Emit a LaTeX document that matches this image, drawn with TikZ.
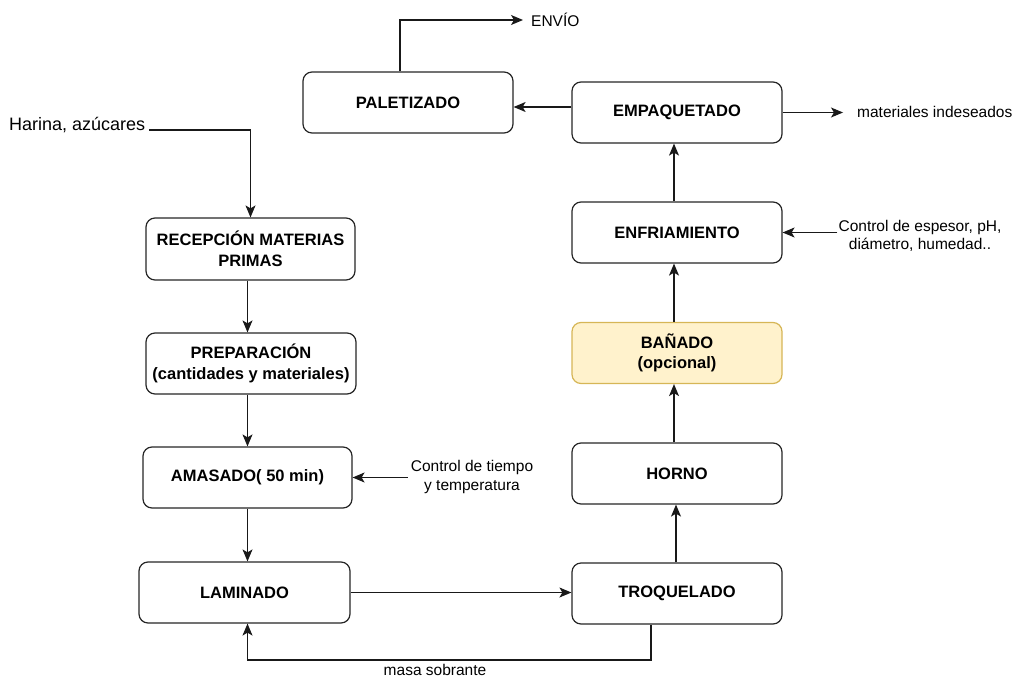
\documentclass[tikz,border=0pt]{standalone}
\usepackage{fontspec}
\setmainfont{Liberation Sans}
\usetikzlibrary{arrows.meta}
\definecolor{banfill}{HTML}{FFF2CC}
\definecolor{banline}{HTML}{D6B656}
\tikzset{
  box/.style={draw=black!85, line width=1.2pt, rounded corners=9pt, fill=white,
    minimum width=210pt, minimum height=61pt, align=center, inner sep=2pt,
    font=\fontsize{16.5}{20.5}\selectfont\bfseries},
  lbl/.style={align=center, inner sep=0pt, font=\fontsize{15.5}{18.5}\selectfont},
  arr/.style={draw=black!90, line width=1.2pt, -{Stealth[length=12pt,width=10pt,inset=3pt]}},
  ln/.style={draw=black!90, line width=1.2pt}
}
\begin{document}
\begin{tikzpicture}[x=1pt,y=-1pt]
\useasboundingbox (0,0) rectangle (1019,677);
% boxes
\node[box] (pal) at (408,102.5) {PALETIZADO};
\node[box] (emp) at (677,112.5) {EMPAQUETADO};
\node[box] (enf) at (677,232.5) {ENFRIAMIENTO};
\node[box, fill=banfill, draw=banline] (ban) at (677,353) {BAÑADO\\(opcional)};
\node[box] (hor) at (677,473.5) {HORNO};
\node[box] (tro) at (677,593.5) {TROQUELADO};
\node[box, minimum width=209pt, minimum height=62pt] (rec) at (250.5,249) {RECEPCIÓN MATERIAS\\PRIMAS};
\node[box] (pre) at (251,363.5) {PREPARACIÓN\\(cantidades y materiales)};
\node[box, minimum width=209pt] (ama) at (247.5,477.5) {AMASADO( 50 min)};
\node[box, minimum width=211pt] (lam) at (244.5,592.5) {LAMINADO};
% labels
\node[lbl, font=\fontsize{18}{22}\selectfont, anchor=west] (har) at (9,125) {Harina, azúcares};
\node[lbl, anchor=west] (env) at (531,20) {ENVÍO};
\node[lbl, anchor=west] (mat) at (857,112) {materiales indeseados};
\node[lbl] (ctl2) at (920,236) {Control de espesor, pH,\\diámetro, humedad..};
\node[lbl] (ctl1) at (472,477) {Control de tiempo\\y temperatura};
\node[lbl] (mas) at (435,670) {masa sobrante};
% helper coordinates
\coordinate (ypal) at (0,107);
\coordinate (xenv) at (400,0);
\coordinate (xlft) at (247.5,0);
\coordinate (xtro) at (651,0);
\coordinate (ybot) at (0,660);
\coordinate (henv) at (400,20);
\coordinate (yhar) at (0,130);
% connectors
\draw[arr] ([xshift=4pt]har.east |- yhar) -| (rec.north);
\draw[arr] (rec.south -| xlft) -- (pre.north -| xlft);
\draw[arr] (pre.south -| xlft) -- (ama.north -| xlft);
\draw[arr] (ama.south -| xlft) -- (lam.north -| xlft);
\draw[arr] (lam.east) -- (lam.east -| tro.west);
\draw[arr] (tro.south -| xtro) -- (xtro |- ybot) -- (xlft |- ybot) -- (lam.south -| xlft);
\draw[arr] ([xshift=-1pt]tro.north) -- ([xshift=-1pt]hor.south);
\draw[arr] ([xshift=-3pt]hor.north) -- ([xshift=-3pt]ban.south);
\draw[arr] ([xshift=-3pt]ban.north) -- ([xshift=-3pt]enf.south);
\draw[arr] ([xshift=-3pt]enf.north) -- ([xshift=-3pt]emp.south);
\draw[arr] (emp.west |- ypal) -- (pal.east |- ypal);
\draw[arr] (pal.north -| xenv) -- (henv) -- ([xshift=-8pt]env.west);
\draw[arr] (emp.east) -- ([xshift=-14pt]mat.west |- emp.east);
\draw[arr] ([xshift=-1pt]ctl2.west |- enf.east) -- (enf.east);
\draw[arr] ([xshift=-3pt]ctl1.west |- ama.east) -- (ama.east);
\end{tikzpicture}
\end{document}
